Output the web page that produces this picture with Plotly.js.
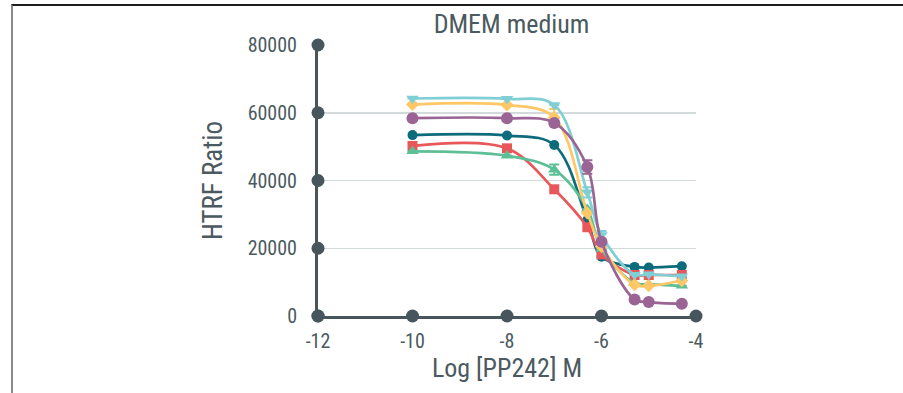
<!DOCTYPE html>
<html>
<head>
<meta charset="utf-8">
<script src="https://cdn.plot.ly/plotly-3.0.1.min.js"></script>
<style>
html,body{margin:0;padding:0;background:#fff;}
#frame{position:absolute;left:11px;top:4px;width:892px;height:389px;border-top:2px solid #1e1e1e;border-left:2px solid #8a8a8a;}
#chart{position:absolute;left:0;top:0;width:903px;height:393px;}
#chart text{font-stretch:condensed !important;}
</style>
</head>
<body>
<div id="frame"></div>
<div id="chart"></div>
<script>
// log concentration (M)
const logConc = [-10, -8, -7, -6.3, -6, -5.3, -5, -4.3];

const seriesTeal   = [53400, 53300, 50500, 28300, 17500, 14500, 14300, 14700];
const seriesRed    = [50200, 49500, 37400, 26200, 18200, 12100, 12100, 12100];
const seriesGreen  = [48600, 47300, 43200, 31600, 19800, 9700, 9400, 8900];
const seriesYellow = [62400, 62300, 58600, 30400, 20500, 9200, 8900, 10400];
const seriesCyan   = [64200, 64100, 62300, 36500, 23900, 12200, 12300, 11700];
const seriesPurple = [58400, 58400, 57000, 44000, 21900, 4900, 4100, 3600];

const errYellow = [0, 0, 2500, 0, 0, 0, 0, 0];
const errGreen  = [0, 0, 1500, 0, 0, 0, 0, 0];
const errPurple = [0, 0, 0, 2000, 0, 0, 0, 0];
const errCyan   = [0, 0, 0, 1500, 1200, 0, 0, 0];

const xTicks = [-12, -10, -8, -6, -4];
const xTickLabels = ['-12', '-10', '-8', '-6', '-4'];
const yTicks = [0, 20000, 40000, 60000, 80000];
const yTickLabels = ['0', '20000', '40000', '60000', '80000'];

const FONT = '"Roboto Condensed", "DejaVu Sans Condensed", "Liberation Sans Narrow", "DejaVu Sans", sans-serif';
const TXT = '#4b5a60';
const AX = '#46565c';

function series(y, color, symbol, size, err) {
  const t = {
    x: logConc, y: y, type: 'scatter', mode: 'lines+markers',
    line: {color: color, width: 2.7, shape: 'spline', smoothing: 1},
    marker: {color: color, symbol: symbol, size: size},
    cliponaxis: false, hoverinfo: 'skip'
  };
  if (err) t.error_y = {type: 'data', array: err, visible: true, color: color, thickness: 2, width: 5};
  return t;
}

const traces = [
  series(seriesTeal, '#0e6b7b', 'circle', 10),
  series(seriesRed, '#e8585a', 'square', 10),
  series(seriesGreen, '#5dbf95', 'triangle-up', 11, errGreen),
  series(seriesYellow, '#ffc765', 'diamond', 10, errYellow),
  series(seriesCyan, '#80cfd5', 'triangle-down', 11, errCyan),
  series(seriesPurple, '#9a6494', 'circle', 12, errPurple),
  {x: xTicks, y: xTicks.map(() => 0), type: 'scatter', mode: 'markers',
   marker: {color: AX, size: 13}, cliponaxis: false, hoverinfo: 'skip'},
  {x: yTicks.map(() => -12), y: yTicks, type: 'scatter', mode: 'markers',
   marker: {color: AX, size: 13}, cliponaxis: false, hoverinfo: 'skip'}
];

const layout = {
  width: 903, height: 393,
  margin: {l: 318, r: 207, t: 45, b: 77},
  paper_bgcolor: 'rgba(0,0,0,0)', plot_bgcolor: 'rgba(0,0,0,0)',
  showlegend: false,
  font: {family: FONT, color: TXT, size: 19},
  title: {text: 'DMEM medium', font: {family: FONT, size: 26, color: TXT},
          x: 0.512, xref: 'paper', xanchor: 'center', y: 0.94, yref: 'container', yanchor: 'middle'},
  xaxis: {
    range: [-12, -4], tickvals: xTicks, ticktext: xTickLabels,
    showgrid: false, zeroline: false, showline: true, linecolor: AX, linewidth: 3,
    ticks: 'outside', ticklen: 5, tickcolor: 'rgba(0,0,0,0)',
    tickfont: {family: FONT, size: 20, color: TXT},
    title: {text: 'Log [PP242] M', font: {family: FONT, size: 26, color: TXT}, standoff: 3}
  },
  yaxis: {
    range: [0, 80000], tickvals: yTicks, ticktext: yTickLabels,
    showgrid: true, gridcolor: '#d3dadc', gridwidth: 1.5,
    zeroline: false, showline: true, linecolor: AX, linewidth: 3,
    ticks: 'outside', ticklen: 14, tickcolor: 'rgba(0,0,0,0)',
    tickfont: {family: FONT, size: 20, color: TXT},
    title: {text: 'HTRF Ratio', font: {family: FONT, size: 27, color: TXT}, standoff: 18}
  }
};

Plotly.newPlot('chart', traces, layout, {staticPlot: true, displayModeBar: false});
</script>
</body>
</html>
